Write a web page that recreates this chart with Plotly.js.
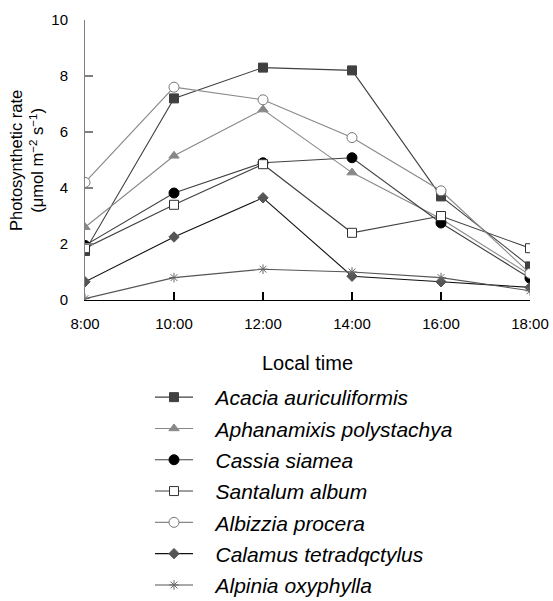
<!DOCTYPE html>
<html>
<head>
<meta charset="utf-8">
<script src="https://cdn.plot.ly/plotly-3.0.1.min.js"></script>
<style>html,body{margin:0;padding:0;background:#fff;}#chart{width:553px;height:601px;}</style>
</head>
<body>
<div id="chart"></div>
<script>
var times = ['8:00', '10:00', '12:00', '14:00', '16:00', '18:00'];
var speciesNames = ['Acacia auriculiformis', 'Aphanamixis polystachya', 'Cassia siamea', 'Santalum album', 'Albizzia procera', 'Calamus tetradqctylus', 'Alpinia oxyphylla'];
var acacia      = [1.75, 7.2, 8.3, 8.2, 3.7, 1.2];
var aphanamixis = [2.6, 5.15, 6.8, 4.55, 2.9, 0.9];
var cassia      = [1.95, 3.82, 4.9, 5.08, 2.75, 0.78];
var santalum    = [1.85, 3.4, 4.85, 2.4, 3.0, 1.85];
var albizzia    = [4.2, 7.6, 7.15, 5.8, 3.9, 0.95];
var calamus     = [0.65, 2.25, 3.65, 0.85, 0.65, 0.45];
var alpinia     = [0.05, 0.8, 1.1, 1.0, 0.8, 0.33];
var yTicks = [0, 2, 4, 6, 8, 10];
var yTitle = 'Photosynthetic rate<br>(μmol m<sup>−2</sup> s<sup>−1</sup>)';

var seriesValues = [acacia, aphanamixis, cassia, santalum, albizzia, calamus, alpinia];
var styles = [
  {line:'#404040', symbol:'square', mcolor:'#404040', mline:'#404040', size:9},
  {line:'#888888', symbol:'triangle-up', mcolor:'#888888', mline:'#888888', size:9},
  {line:'#404040', symbol:'circle', mcolor:'#000000', mline:'#000000', size:10},
  {line:'#404040', symbol:'square', mcolor:'#ffffff', mline:'#333333', size:9},
  {line:'#888888', symbol:'circle', mcolor:'#ffffff', mline:'#777777', size:10},
  {line:'#111111', symbol:'diamond', mcolor:'#555555', mline:'#555555', size:8},
  {line:'#555555', symbol:'asterisk-open', mcolor:'#666666', mline:'#666666', size:8}
];

var traces = seriesValues.map(function(vals, i){
  var s = styles[i];
  return {
    x: times, y: vals, type:'scatter', mode:'lines+markers',
    name: '\u00a0\u00a0\u00a0' + speciesNames[i], legendgroup: 'g'+i,
    line:{color:s.line, width:1.1},
    marker:{symbol:s.symbol, color:s.mcolor, size:s.size, line:{color:s.mline, width:1}}
  };
});

var layout = {
  width:553, height:601,
  margin:{l:85, r:23, t:20, b:301, autoexpand:false},
  paper_bgcolor:'#fff', plot_bgcolor:'#fff',
  font:{family:'Liberation Sans, Arial, sans-serif', color:'#000'},
  showlegend:true,
  legend:{
    xref:'container', yref:'container', x:150/553, y:1-377/601, xanchor:'left', yanchor:'top',
    font:{size:21, style:'italic', family:'Liberation Sans, Arial, sans-serif'},
    traceorder:'grouped', tracegroupgap:1, itemwidth:38
  },
  xaxis:{
    type:'category', range:[0,5], showgrid:false, zeroline:false,
    showline:true, linecolor:'#000', linewidth:1.2,
    ticks:'inside', ticklen:8, tickcolor:'#000', tickwidth:1.2,
    tickfont:{size:15}, ticklabelstandoff:10, tickangle:0,
    title:{text:'Local time', font:{size:20}, standoff:24}
  },
  yaxis:{
    range:[0,10], tickvals:yTicks, ticktext:yTicks.map(function(v){return v + '\u00a0\u00a0\u00a0';}),
    showgrid:false, zeroline:false,
    showline:true, linecolor:'#808080', linewidth:1.5,
    ticks:'inside', ticklen:8, tickcolor:'#808080', tickwidth:1.2,
    tickfont:{size:15}
  },
  annotations:[{
    text: yTitle, xref:'paper', yref:'paper', x:(26-85)/445, y:0.5,
    xanchor:'center', yanchor:'middle', textangle:-90, showarrow:false,
    font:{size:16.5, color:'#000'}
  }]
};
Plotly.newPlot('chart', traces, layout, {displayModeBar:false, staticPlot:true});
</script>
</body>
</html>
